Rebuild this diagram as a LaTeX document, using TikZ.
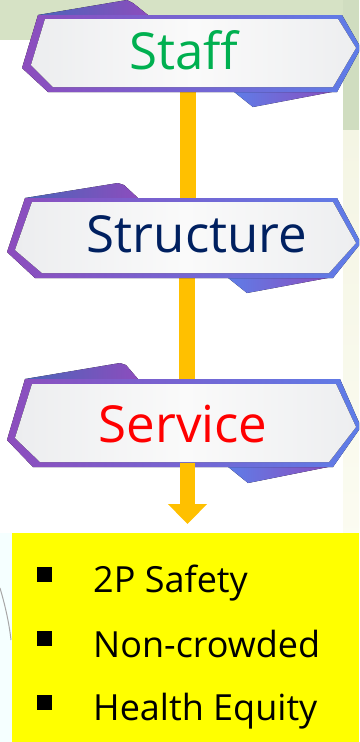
\documentclass[tikz,border=0pt]{standalone}
\usepackage{fontspec}
\setmainfont{Open Sans}
\usetikzlibrary{arrows.meta}
\definecolor{bordL}{HTML}{8C4DBD}
\definecolor{bordR}{HTML}{5E7DE8}
\definecolor{innerL}{HTML}{ECEDEF}
\definecolor{innerM}{HTML}{FAFAFA}
\definecolor{innerR}{HTML}{EDEEF0}
\definecolor{barcol}{HTML}{FFC000}
\definecolor{bggreen}{HTML}{D6E2C5}
\definecolor{stripgreen}{HTML}{D0DDC0}
\definecolor{stripcream}{HTML}{F4F5E4}
\definecolor{boxyellow}{HTML}{FFFF00}
\definecolor{staffcol}{HTML}{00B050}
\definecolor{structcol}{HTML}{002060}
\tikzset{
  border/.style={left color=bordL, right color=bordR},
  inner/.style={left color=innerL, right color=innerR, middle color=innerM},
  flaptop/.style={left color=bordR!80!black, right color=bordL},
  flapbot/.style={left color=bordR, right color=bordL},
  bar/.style={line width=16pt, draw=barcol},
  title/.style={anchor=base, font=\fontsize{51}{60}\selectfont, inner sep=0pt},
  item/.style={anchor=base west, font=\fontsize{36}{42}\selectfont, inner sep=0pt},
  bulletsq/.style={fill=black}
}
\begin{document}
\begin{tikzpicture}[x=1pt,y=-1pt]
\useasboundingbox (0,0) rectangle (359,742);
\begin{scope}
\clip (0,0) rectangle (359,742);
% background
\fill[white] (0,0) rectangle (359,742);
\fill[bggreen] (0,0) rectangle (343,40);
\fill[stripgreen] (343,0) rectangle (359,130);
\fill[top color=stripcream, bottom color=white!97!yellow] (343,130) rectangle (359,742);
\fill[color=green!3!cyan!4!white] (0,533) rectangle (12,742);
\draw[gray!70, line width=1pt] (0,588) .. controls (5,605) and (9,622) .. (11,640);

% connectors
\coordinate (c1) at (188,88);
\coordinate (c2) at (188,202);
\coordinate (c3) at (187,268);
\coordinate (c4) at (187,382);
\coordinate (c5) at (187.5,460);
\coordinate (c6) at (187.5,524);
\draw[bar] (c1) -- (c2);
\draw[bar] (c3) -- (c4);
\draw[barcol, line width=15pt, -{Triangle[width=38pt,length=20pt]}] (c5) -- (c6);

% sign 1
\fill[flaptop] (38,15) -- (127,0) -- (133,3) -- (148,15) -- cycle;
\fill[flapbot] (233,91) -- (253,107) -- (337,91) -- cycle;
\fill[border] (38,15) -- (342,15) -- (361,48) -- (337,92) -- (48,92) -- (22,68) -- cycle;
\fill[inner] (45,19) -- (338,19) -- (356,48) -- (333,87) -- (53,87) -- (31,65) -- cycle;
\node[title, text=staffcol] (staff) at (184,69) {Staff};

% sign 2
\fill[flaptop] (25,198) -- (118,183) -- (124,185) -- (138,198) -- cycle;
\fill[flapbot] (227,277) -- (247,293) -- (333,277) -- cycle;
\fill[border] (25,198) -- (337,198) -- (361,243) -- (333,278) -- (35,278) -- (7,252) -- cycle;
\fill[inner] (32,202) -- (333,202) -- (356,243) -- (329,273) -- (42,273) -- (15,250) -- cycle;
\node[title, text=structcol] (structure) at (197,252) {Structure};

% sign 3
\fill[flaptop] (25,379) -- (120,363) -- (126,365) -- (138,379) -- cycle;
\fill[flapbot] (227,466) -- (248,483) -- (333,466) -- cycle;
\fill[border] (25,379) -- (340,379) -- (361,427) -- (333,467) -- (33,467) -- (7,440) -- cycle;
\fill[inner] (32,384) -- (336,384) -- (356,427) -- (329,462) -- (40,462) -- (15,438) -- cycle;
\node[title, text=red] (service) at (183,442) {Service};

% arrow shaft start over the sign bottom edge
\fill[barcol] (180,463) rectangle (195,470);

% yellow box
\fill[boxyellow] (12,533) rectangle (359,742);
\fill[bulletsq] (37,567) rectangle (52,582);
\fill[bulletsq] (37,631) rectangle (52,646);
\fill[bulletsq] (37,695) rectangle (52,710);
\node[item] (i1) at (93,592) {2P Safety};
\node[item] (i2) at (93,657) {Non-crowded};
\node[item] (i3) at (93,720) {Health Equity};
\end{scope}
\end{tikzpicture}
\end{document}
